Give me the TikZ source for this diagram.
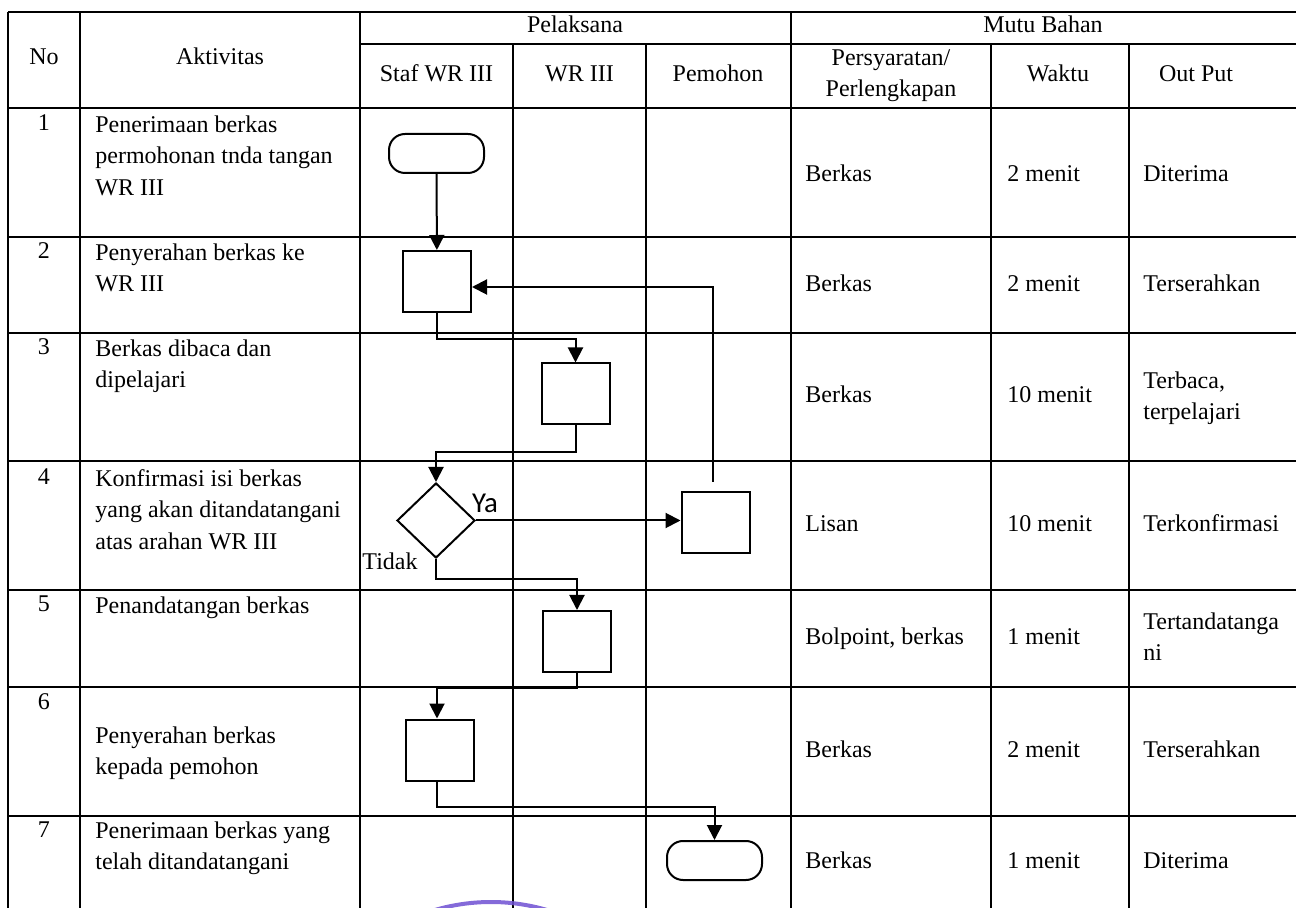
\documentclass[tikz,border=0pt]{standalone}
\usepackage{fontspec}
\setmainfont{Liberation Serif}
\newfontfamily\calibrifont{Carlito}
\usepackage{tikz}
\usetikzlibrary{arrows.meta, positioning, shapes.geometric}
\definecolor{clrStamp}{HTML}{6E50D2}
\tikzset{
  grid line/.style={line width=1.1pt},
  proc box/.style={rectangle, draw, line width=1pt, minimum width=34pt, minimum height=30.5pt, inner sep=0pt},
  term box/.style={rectangle, draw, line width=1pt, rounded corners=8pt, minimum width=47.5pt, minimum height=19.5pt, inner sep=0pt},
  dec box/.style={diamond, draw, line width=1pt, minimum width=39pt, minimum height=37.5pt, inner sep=0pt},
  cell txt/.style={inner sep=0pt, anchor=north west, align=left, font=\fontsize{12}{15.75}\selectfont},
  one txt/.style={inner sep=0pt, anchor=base west, font=\fontsize{12}{15.75}\selectfont},
  head txt/.style={inner sep=0pt, anchor=base, font=\fontsize{12}{15.75}\selectfont},
  arr/.style={-{Triangle[length=7.5pt, width=7.5pt]}, line width=1pt},
}

\begin{document}
\begin{tikzpicture}[x=0.5pt, y=-0.5pt]
  \useasboundingbox (0,0) rectangle (1296,908);

  % Table grid
  \draw[grid line] (8,12) -- (1296,12);
  \draw[grid line] (360,44) -- (1296,44);
  \draw[grid line] (8,108) -- (1296,108);
  \draw[grid line] (8,237) -- (1296,237);
  \draw[grid line] (8,333) -- (1296,333);
  \draw[grid line] (8,461) -- (1296,461);
  \draw[grid line] (8,590) -- (1296,590);
  \draw[grid line] (8,687) -- (1296,687);
  \draw[grid line] (8,816) -- (1296,816);
  \draw[grid line] (8,12) -- (8,908);
  \draw[grid line] (80,12) -- (80,908);
  \draw[grid line] (360,12) -- (360,908);
  \draw[grid line] (791,12) -- (791,908);
  \draw[grid line] (513,44) -- (513,908);
  \draw[grid line] (646,44) -- (646,908);
  \draw[grid line] (991,44) -- (991,908);
  \draw[grid line] (1129,44) -- (1129,908);

  % Header
  \node[head txt] (hNo) at (44,65) {No};
  \node[head txt] (hAkt) at (220,65) {Aktivitas};
  \node[head txt] (hPel) at (575,33) {Pelaksana};
  \node[head txt] (hMutu) at (1043,33) {Mutu Bahan};
  \node[head txt] (hStaf) at (436.5,82) {Staf WR III};
  \node[head txt] (hWR) at (579.5,82) {WR III};
  \node[head txt] (hPem) at (718,82) {Pemohon};
  \node[cell txt, anchor=north, align=center] (hSyarat) at (891,49) {Persyaratan/\\Perlengkapan};
  \node[head txt] (hWaktu) at (1058,82) {Waktu};
  \node[head txt] (hOut) at (1196,82) {Out Put};

  % Nomor
  \node[head txt] (no1) at (44,131) {1};
  \node[head txt] (no2) at (44,259) {2};
  \node[head txt] (no3) at (44,355) {3};
  \node[head txt] (no4) at (44,485) {4};
  \node[head txt] (no5) at (44,612) {5};
  \node[head txt] (no6) at (44,710) {6};
  \node[head txt] (no7) at (44,837) {7};

  % Aktivitas
  \node[cell txt] (akt1) at (95,115) {Penerimaan berkas\\permohonan tnda tangan\\WR III};
  \node[cell txt] (akt2) at (95,243) {Penyerahan berkas ke\\WR III};
  \node[cell txt] (akt3) at (95,339) {Berkas dibaca dan\\dipelajari};
  \node[cell txt] (akt4) at (95,469) {Konfirmasi isi berkas\\yang akan ditandatangani\\atas arahan WR III};
  \node[cell txt] (akt5) at (95,596) {Penandatangan berkas};
  \node[cell txt] (akt6) at (95,726) {Penyerahan berkas\\kepada pemohon};
  \node[cell txt] (akt7) at (95,821) {Penerimaan berkas yang\\telah ditandatangani};

  % Persyaratan / Waktu / Out Put
  \node[one txt] (syr1) at (805,182) {Berkas};
  \node[one txt] (syr2) at (805,292) {Berkas};
  \node[one txt] (syr3) at (805,403) {Berkas};
  \node[one txt] (syr4) at (805,532) {Lisan};
  \node[one txt] (syr5) at (805,645) {Bolpoint, berkas};
  \node[one txt] (syr6) at (805,757) {Berkas};
  \node[one txt] (syr7) at (805,868) {Berkas};
  \node[one txt] (wkt1) at (1007,182) {2 menit};
  \node[one txt] (wkt2) at (1007,292) {2 menit};
  \node[one txt] (wkt3) at (1007,403) {10 menit};
  \node[one txt] (wkt4) at (1007,532) {10 menit};
  \node[one txt] (wkt5) at (1007,645) {1 menit};
  \node[one txt] (wkt6) at (1007,757) {2 menit};
  \node[one txt] (wkt7) at (1007,868) {1 menit};
  \node[one txt] (out1) at (1143,182) {Diterima};
  \node[one txt] (out2) at (1143,292) {Terserahkan};
  \node[cell txt] (out3) at (1143,371) {Terbaca,\\terpelajari};
  \node[one txt] (out4) at (1143,532) {Terkonfirmasi};
  \node[cell txt] (out5) at (1143,612) {Tertandatanga\\ni};
  \node[one txt] (out6) at (1143,757) {Terserahkan};
  \node[one txt] (out7) at (1143,868) {Diterima};

  % Flow
  \node[term box] (START) at (436.5,153.5) {};
  \node[proc box] (SERAH) at (437,281.5) {};
  \node[proc box] (BACA) at (575.5,394) {};
  \node[dec box] (CEK) at (436,520.5) {};
  \node[proc box] (KONF) at (715.5,522.5) {};
  \node[proc box] (TTD) at (577,641.5) {};
  \node[proc box] (KIRIM) at (440,750) {};
  \node[term box] (SELESAI) at (714.5,860.5) {};

  \node[font=\calibrifont\fontsize{14.4}{17}\selectfont, inner sep=0pt] (ya) at (485,503) {Ya};
  \node[font=\fontsize{12}{15.75}\selectfont, inner sep=0pt] (tidak) at (390,561) {Tidak};

  \draw[arr] (START) -- (SERAH);
  \draw[arr] (SERAH.south) -- ++(0,26) -| (BACA.north);
  \draw[arr] (BACA.south) -- ++(0,27) -| (CEK.north);
  \draw[arr] (CEK.east) -- (CEK.east -| KONF.west);
  \draw[arr] ([xshift=-1.25pt, yshift=4.5pt]KONF.north) |- ([yshift=-2.75pt]SERAH.east);
  \draw[arr] (CEK.south) -- ++(0,20) -| (TTD.north);
  \draw[arr] (TTD.south) -- ++(0,15) -| ([xshift=-1.5pt]KIRIM.north);
  \draw[arr] ([xshift=-1.5pt]KIRIM.south) -- ++(0,25) -| (SELESAI.north);

  % Stamp edge
  \begin{scope}
    \clip (0,0) rectangle (1296,908);
    \draw[clrStamp, line width=2pt, opacity=0.85] (491,1101) circle[radius=99.5pt];
  \end{scope}
\end{tikzpicture}
\end{document}
